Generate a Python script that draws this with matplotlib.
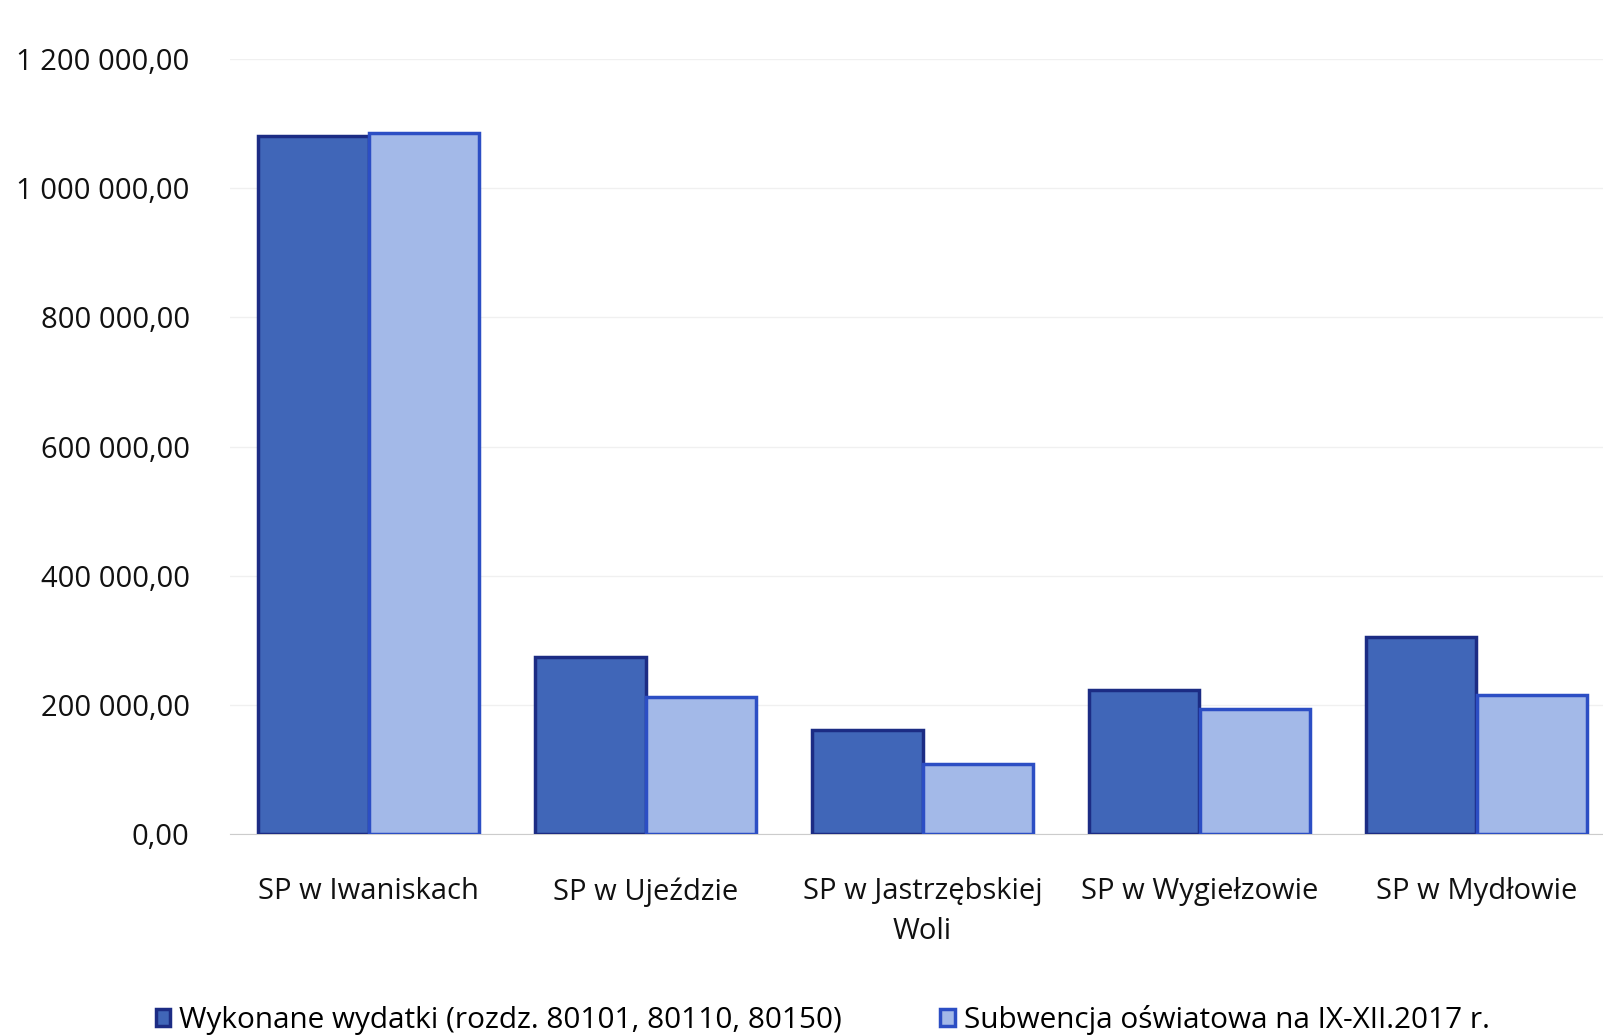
import numpy as np
import matplotlib.pyplot as plt
from matplotlib.ticker import FuncFormatter

plt.rcParams['font.family'] = ['Open Sans', 'DejaVu Sans']

categories = ['SP w Iwaniskach', 'SP w Ujeździe', 'SP w Jastrzębskiej\nWoli',
              'SP w Wygiełzowie', 'SP w Mydłowie']
wydatki = [1081000, 274000, 161500, 223000, 305500]
subwencja = [1086000, 212000, 109000, 193000, 215000]
labels = ['Wykonane wydatki (rozdz. 80101, 80110, 80150)',
          'Subwencja oświatowa na IX-XII.2017 r.']
yticks = [0, 200000, 400000, 600000, 800000, 1000000, 1200000]

fig = plt.figure(figsize=(16.03, 10.35), dpi=100)
# the plot area runs a little past the right edge, as in the scan
ax = fig.add_axes([230 / 1603, 1 - 834 / 1035, (1615 - 230) / 1603, (834 - 59) / 1035])

x = np.arange(len(categories))
w = 0.4
ax.bar(x - w / 2, wydatki, w, color='#4066b8', edgecolor='#1c2c84', linewidth=2.5,
       label=labels[0], zorder=3)
ax.bar(x + w / 2, subwencja, w, color='#a3b9e8', edgecolor='#2c4ec4', linewidth=2.5,
       label=labels[1], zorder=3)

ax.set_xlim(-0.5, len(categories) - 0.5)
ax.set_ylim(0, 1200000)
ax.set_yticks(yticks)


def fmt(v, pos):
    s = f'{v:,.2f}'.replace(',', ' ').replace('.', ',')
    return s


ax.yaxis.set_major_formatter(FuncFormatter(fmt))
ax.set_xticks(x)
ax.set_xticklabels(categories, linespacing=1.5)
ax.tick_params(axis='both', length=0, colors='#111111')
ax.tick_params(axis='y', pad=29, labelsize=21)
ax.tick_params(axis='x', pad=31, labelsize=21)
ax.grid(axis='y', color='#f0f0f0', linewidth=1, zorder=0)
for s in ['top', 'right', 'left']:
    ax.spines[s].set_visible(False)
ax.spines['bottom'].set_color('#cccccc')

ax.legend(loc='center', bbox_to_anchor=(0.428, -0.24), ncol=2, frameon=False,
          fontsize=21.4, handlelength=0.5, handleheight=0.5, handletextpad=0.3,
          columnspacing=3.3)

fig.savefig('out.png', dpi=100)
